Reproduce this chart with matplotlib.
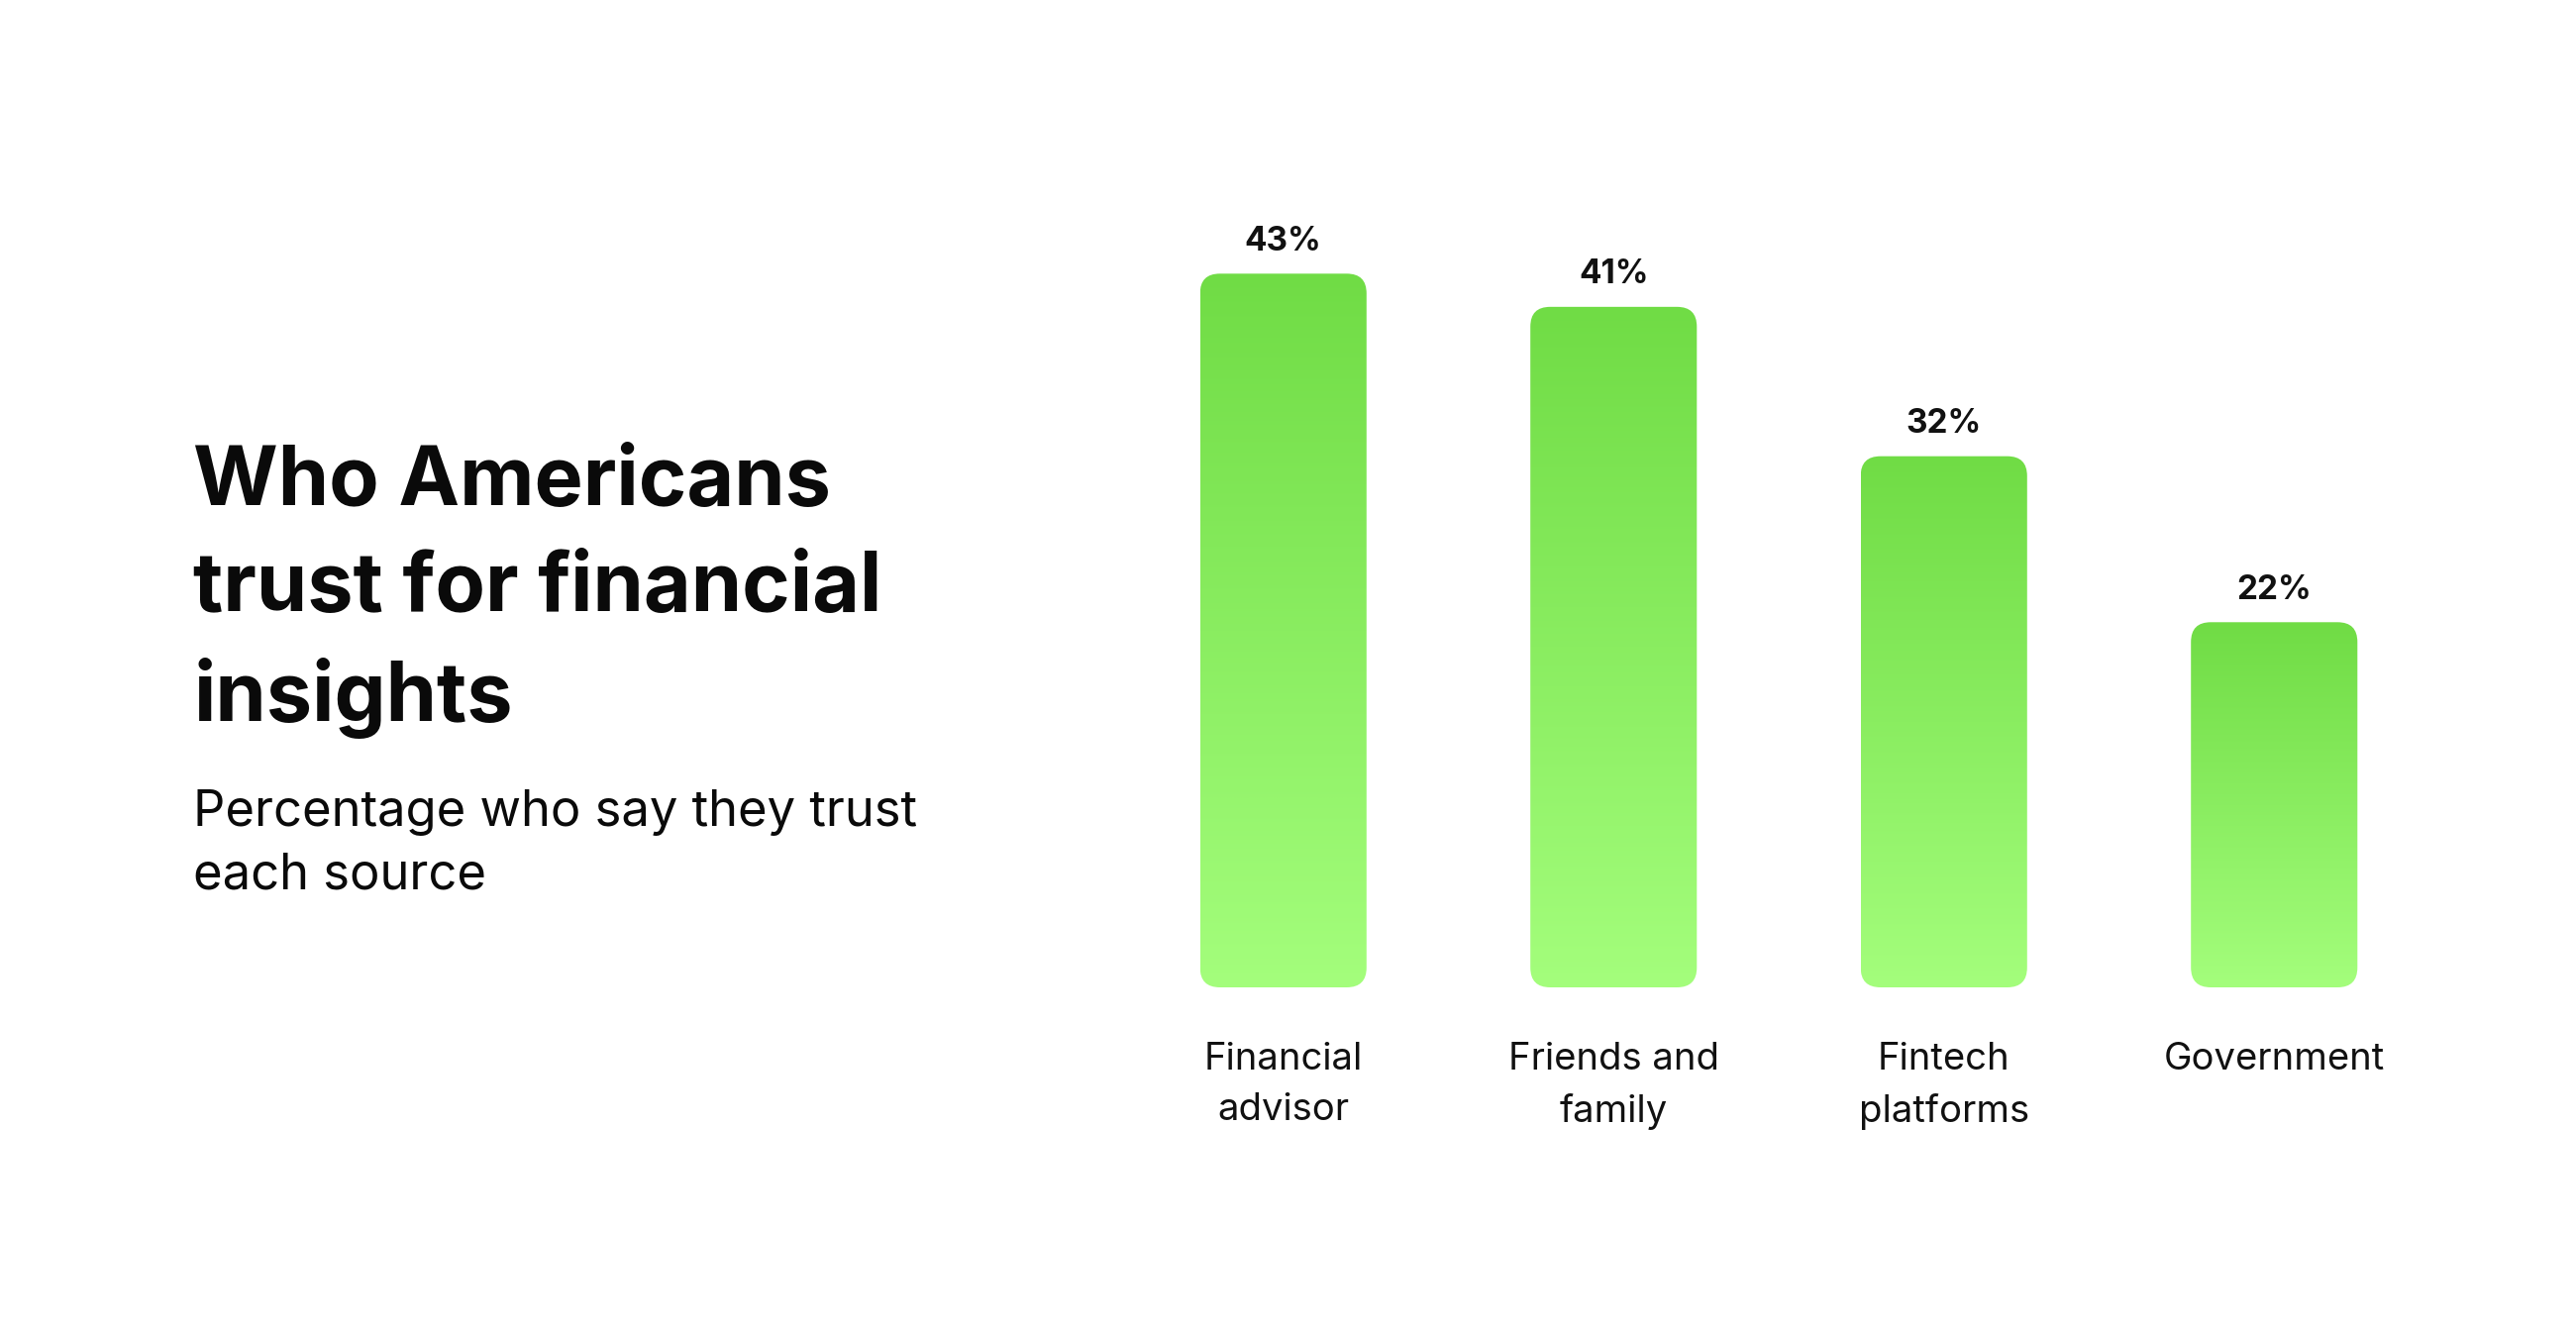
import numpy as np
import matplotlib.pyplot as plt
from matplotlib.patches import FancyBboxPatch
from matplotlib.colors import LinearSegmentedColormap

categories = ["Financial\nadvisor", "Friends and\nfamily", "Fintech\nplatforms", "Government"]
values = [43, 41, 32, 22]
value_labels = ["43%", "41%", "32%", "22%"]

title = "Who Americans\ntrust for financial\ninsights"
subtitle = "Percentage who say they trust\neach source"

top_color = "#70DC45"
bottom_color = "#A4FE7C"
font = "Inter"

W, H, DPI = 2601, 1344, 100
fig = plt.figure(figsize=(W / DPI, H / DPI), dpi=DPI)
fig.patch.set_facecolor("white")

# axes placed in pixel terms
ax_left, ax_right = 1129, 2463
ax_bottom_px = 997  # from top of image
ax_top_px = 159
ax = fig.add_axes([ax_left / W, (H - ax_bottom_px) / H,
                   (ax_right - ax_left) / W, (ax_bottom_px - ax_top_px) / H])
ax.set_xlim(-0.5, len(categories) - 0.5)
ax.set_ylim(0, 50)
ax.axis("off")

bar_w = 0.504
px_per_x = (ax_right - ax_left) / len(categories)
px_per_y = (ax_bottom_px - ax_top_px) / 50
radius_px = 20
rx = radius_px / px_per_x
aspect = px_per_x / px_per_y

cmap = LinearSegmentedColormap.from_list("g", [bottom_color, top_color])
grad = np.linspace(0, 1, 256).reshape(-1, 1)

for i, v in enumerate(values):
    x0 = i - bar_w / 2
    patch = FancyBboxPatch((x0, 0), bar_w, v,
                           boxstyle=f"round,pad=0,rounding_size={rx}",
                           mutation_aspect=aspect,
                           facecolor="none", edgecolor="none")
    ax.add_patch(patch)
    im = ax.imshow(grad, extent=[x0, x0 + bar_w, 0, v], aspect="auto",
                   cmap=cmap, origin="lower", interpolation="bicubic")
    im.set_clip_path(patch)

    ax.annotate(value_labels[i], (i, v), xytext=(0, 17), textcoords="offset points",
                ha="center", va="baseline", fontsize=24, fontweight="bold",
                family=font, color="#111111")
    ax.annotate(categories[i], (i, 0), xytext=(0, -39.5), textcoords="offset points",
                ha="center", va="top", fontsize=27.5, family=font,
                color="#111111", linespacing=1.55)

# multi-line text with va=baseline sits on its last line
fig.text(195 / W, 1 - 728 / H, title, ha="left", va="baseline", fontsize=59.5,
         fontweight="bold", family=font, color="#0a0a0a", linespacing=1.47)
fig.text(195 / W, 1 - 897 / H, subtitle, ha="left", va="baseline", fontsize=36.5,
         family=font, color="#0a0a0a", linespacing=1.42)

ax.set_xlim(-0.5, len(categories) - 0.5)
ax.set_ylim(0, 50)

fig.savefig("out.png", dpi=DPI, facecolor="white")
